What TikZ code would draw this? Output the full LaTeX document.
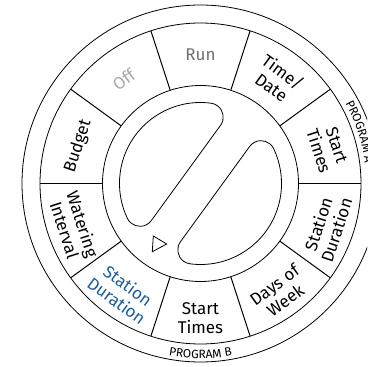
\documentclass[tikz,border=0pt]{standalone}
\usepackage{fontspec}
\setmainfont{Fira Sans}
\usetikzlibrary{decorations.text}
\definecolor{rungray}{HTML}{707070}
\definecolor{offgray}{HTML}{A8A8A8}
\definecolor{dialblue}{HTML}{1A5E9A}
\tikzset{
  ring/.style={draw=black, line width=0.8pt},
  divider/.style={draw=black, line width=1pt},
  lobe/.style={draw=black, line width=0.8pt},
  lbl/.style={inner sep=0pt, align=center, font=\fontsize{17}{19}\selectfont, text=black},
}
\begin{document}
\begin{tikzpicture}[x=1pt,y=1pt]
\useasboundingbox (0,0) rectangle (367,367);
\clip (0,0) rectangle (367,367);
\coordinate (C) at (200.5,183.5);
% circles
\draw[ring] (C) circle[radius=178.5];
\draw[ring] (C) circle[radius=160.5];
\draw[ring] (C) circle[radius=98];
% dividers
\foreach \a in {0,36,...,324}
  \draw[divider] ([shift={(\a:98)}]C) -- ([shift={(\a:160.5)}]C);
% knob lobes
\foreach \r in {54,234}{
\begin{scope}[shift={(C)}, rotate=\r]
  \draw[lobe] (-58.86,18) -- (58.86,18) arc[start angle=-90,end angle=28.5,radius=14]
    arc[start angle=28.5,end angle=151.5,radius=81]
    arc[start angle=151.5,end angle=270,radius=14] -- cycle;
\end{scope}}
% triangle marker
\draw[line width=0.8pt, line join=miter] ([shift={(-47.2,-52.5)}]C) -- ([shift={(-33.8,-60.5)}]C) -- ([shift={(-48.2,-68.2)}]C) -- cycle;
% segment labels
\node[lbl, text=rungray] (run) at ([shift={(90:128.5)}]C) {Run};
\node[lbl, text=offgray, rotate=36] (off) at ([shift={(126.5:129)}]C) {Off};
\node[lbl, rotate=72] (budget) at ([shift={(163:128)}]C) {Budget};
\node[lbl, rotate=-72] (water) at ([shift={(199:134)}]C) {Watering\\Interval};
\node[lbl, text=dialblue, rotate=-36] (sdur1) at ([shift={(234.5:134.5)}]C) {Station\\Duration};
\node[lbl] (start1) at ([shift={(270:135)}]C) {Start\\Times};
\node[lbl, rotate=36] (days) at ([shift={(306:135)}]C) {Days of\\Week};
\node[lbl, rotate=72] (sdur2) at ([shift={(341:134)}]C) {Station\\Duration};
\node[lbl, rotate=-72] (start2) at ([shift={(15.5:132)}]C) {Start\\Times};
\node[lbl, rotate=-36] (time) at ([shift={(53.5:129.5)}]C) {Time/\\Date};
% program labels
\path[decorate, decoration={text along path, text align=center,
   text={|\fontsize{12}{12}\selectfont|PROGRAM A}}]
   ([shift={(42:165.5)}]C) arc[start angle=42, end angle=-6, radius=165.5];
\path[decorate, decoration={text along path, text align=center,
   text={|\fontsize{12}{12}\selectfont|PROGRAM B}}]
   ([shift={(246:175)}]C) arc[start angle=246, end angle=294, radius=175];
\end{tikzpicture}
\end{document}
